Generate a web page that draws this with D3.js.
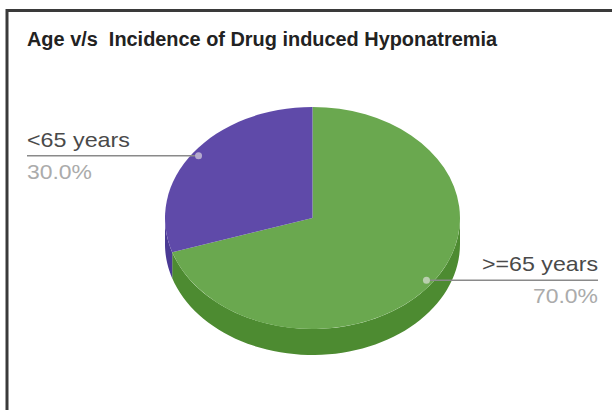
<!DOCTYPE html>
<html><head><meta charset="utf-8">
<script src="https://cdn.jsdelivr.net/npm/d3@7"></script>
<style>html,body{margin:0;padding:0;background:#fff;}svg{display:block;}text{white-space:pre;}</style>
</head><body>
<svg id="chart" width="612" height="410"></svg>
<script>
const title = "Age v/s  Incidence of Drug induced Hyponatremia";
const categories = [">=65 years", "<65 years"];
const values = [70, 30];
const percentLabels = ["70.0%", "30.0%"];
const topColors = ["#6aa84f", "#5f4aa9"];
const sideColors = ["#4d8b31", "#4a3a94"];

const svg = d3.select("#chart");
const W = 612, H = 410;
svg.append("rect").attr("width", W).attr("height", H).attr("fill", "#fff");
// frame (top and left edges)
svg.append("line").attr("x1", 6).attr("x2", W).attr("y1", 10.5).attr("y2", 10.5).attr("stroke", "#3a3a3a").attr("stroke-width", 3);
svg.append("line").attr("x1", 7).attr("x2", 7).attr("y1", 9).attr("y2", H).attr("stroke", "#3a3a3a").attr("stroke-width", 3);

function fitText(sel, width) {
  sel.attr("textLength", width).attr("lengthAdjust", "spacingAndGlyphs");
}

const t = svg.append("text").attr("x", 27).attr("y", 45.5)
  .attr("font-family", "Liberation Sans, Arial, sans-serif").attr("font-weight", "bold")
  .attr("font-size", 20).attr("fill", "#222").text(title);
fitText(t, 470);

const cx = 312.5, cy = 218, rx = 147.5, ry = 111, depth = 26;
const pie = d3.pie().sort(null).value(d => d)(values);
const ex = a => cx + rx * Math.sin(a);
const ey = a => cy - ry * Math.cos(a);

// sides
const gSide = svg.append("g");
pie.forEach((p, i) => {
  const s = Math.max(p.startAngle, Math.PI / 2), e = Math.min(p.endAngle, 3 * Math.PI / 2);
  if (s >= e) return;
  const path = d3.path();
  const n = 60;
  path.moveTo(ex(s), ey(s));
  for (let k = 1; k <= n; k++) { const a = s + (e - s) * k / n; path.lineTo(ex(a), ey(a)); }
  for (let k = n; k >= 0; k--) { const a = s + (e - s) * k / n; path.lineTo(ex(a), ey(a) + depth); }
  path.closePath();
  gSide.append("path").attr("d", path.toString()).attr("fill", sideColors[i]);
});

// top faces
const arc = d3.arc().innerRadius(0).outerRadius(rx);
const gTop = svg.append("g").attr("transform", `translate(${cx},${cy}) scale(1,${ry / rx})`);
gTop.selectAll("path").data(pie).join("path")
  .attr("d", arc).attr("fill", (d, i) => topColors[i]);

// labels
const labelSide = [1, -1]; // right for first, left for second
pie.forEach((p, i) => {
  const mid = (p.startAngle + p.endAngle) / 2;
  const dx = cx + 0.955 * rx * Math.sin(mid);
  const dy = cy - 0.955 * ry * Math.cos(mid);
  const right = labelSide[i] > 0;
  const xEnd = right ? 598 : 27;
  svg.append("line").attr("x1", dx).attr("x2", xEnd).attr("y1", dy).attr("y2", dy)
    .attr("stroke", "#8a8a8a").attr("stroke-width", 1.5);
  svg.append("circle").attr("cx", dx).attr("cy", dy).attr("r", 3.5)
    .attr("fill", i === 0 ? "#b9cfae" : "#b5aacf");
  const anchor = right ? "end" : "start";
  const lt = svg.append("text").attr("x", xEnd).attr("y", dy - 9).attr("text-anchor", anchor)
    .attr("font-family", "Liberation Sans, Arial, sans-serif").attr("font-size", 21)
    .attr("fill", "#4a4a4a").text(categories[i]);
  fitText(lt, right ? 116 : 103);
  const pt = svg.append("text").attr("x", xEnd).attr("y", dy + 23).attr("text-anchor", anchor)
    .attr("font-family", "Liberation Sans, Arial, sans-serif").attr("font-size", 21)
    .attr("fill", "#ababab").text(percentLabels[i]);
  fitText(pt, 65);
});
</script>
</body></html>
